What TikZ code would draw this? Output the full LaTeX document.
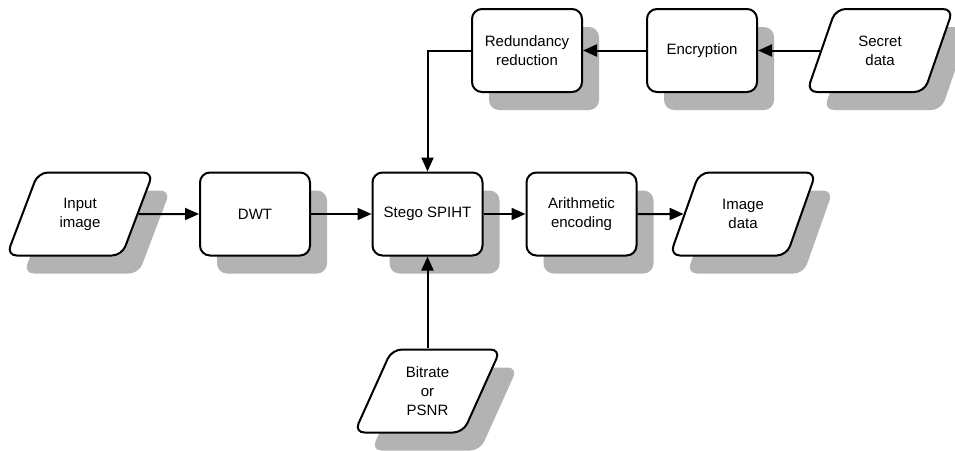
\documentclass[tikz,border=0pt]{standalone}
\usepackage{fontspec}
\setmainfont{Liberation Sans}
\usetikzlibrary{shapes.geometric,shadows,arrows.meta}
\definecolor{shadowgray}{HTML}{B3B3B3}
\tikzset{
  shade box/.style={drop shadow={shadow xshift=17pt, shadow yshift=-18pt, fill=shadowgray, opacity=1}},
  procbox/.style={draw=black, line width=2pt, fill=white, rounded corners=10pt,
    minimum width=110pt, minimum height=83pt, align=center, inner sep=2pt,
    font=\fontsize{15}{19}\selectfont, shade box},
  iobox/.style={draw=black, line width=2pt, fill=white, rounded corners=10pt,
    trapezium, trapezium left angle=65, trapezium right angle=115,
    trapezium stretches=true,
    minimum width=147pt, minimum height=83pt, align=center, inner sep=1pt,
    font=\fontsize{15}{19}\selectfont, shade box},
  link/.style={line width=2pt, -{Triangle[length=14pt,width=12pt]}}
}
\begin{document}
\begin{tikzpicture}[x=1pt,y=-1pt]
\useasboundingbox (0,0) rectangle (955,450);
\node[iobox]   (in)   at (80,214)    {Input\\image};
\node[procbox] (dwt)  at (255,214)   {DWT};
\node[procbox] (sp)   at (427.5,214) {Stego SPIHT};
\node[procbox] (ar)   at (581.5,214) {Arithmetic\\encoding};
\node[iobox]   (img)  at (743,214)   {Image\\data};
\node[procbox] (red)  at (527,50.5)  {Redundancy\\reduction};
\node[procbox] (enc)  at (702,50.5)  {Encryption};
\node[iobox]   (sec)  at (880,50.5)  {Secret\\data};
\node[iobox]   (bit)  at (427.5,391) {Bitrate\\or\\PSNR};
\draw[link] (in.east) -- (dwt.west);
\draw[link] (dwt.east) -- (sp.west);
\draw[link] (sp.east) -- (ar.west);
\draw[link] (ar.east) -- (img.west);
\draw[link] (sec.west) -- (enc.east);
\draw[link] (enc.west) -- (red.east);
\draw[link] (red.west) -| (sp.north);
\draw[link] (bit.north) -- (sp.south);
\end{tikzpicture}
\end{document}
